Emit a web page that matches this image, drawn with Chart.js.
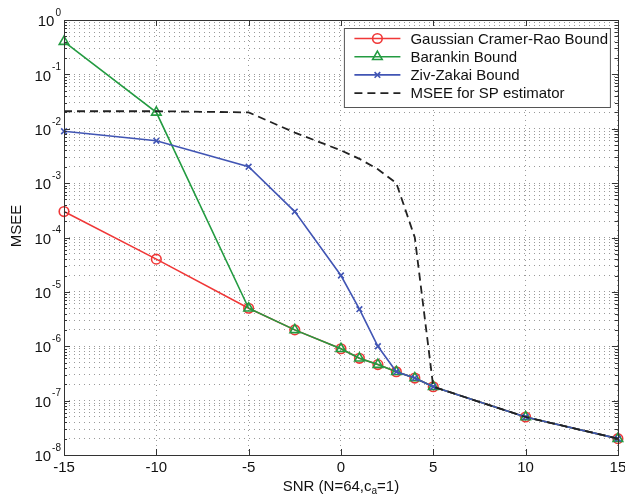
<!DOCTYPE html>
<html>
<head>
<meta charset="utf-8">
<script src="https://cdn.jsdelivr.net/npm/chart.js@4.4.1/dist/chart.umd.min.js"></script>
<style>
  html, body { margin: 0; padding: 0; background: #fff; }
  #wrap { width: 625px; height: 497px; position: relative; }
</style>
</head>
<body>
<div id="wrap"><canvas id="chart"></canvas></div>
<script>
// SNR values (dB) shared by all curves
const snr = [-15, -10, -5, -2.5, 0, 1, 2, 3, 4, 5, 10, 15];

const gaussianCrb = [3e-4, 4e-5, 5e-6, 2e-6, 9e-7, 6e-7, 4.6e-7, 3.4e-7, 2.6e-7, 1.8e-7, 5e-8, 2e-8];
const barankin    = [0.4, 0.02, 5e-6, 2e-6, 9e-7, 6e-7, 4.6e-7, 3.4e-7, 2.6e-7, 1.8e-7, 5e-8, 2e-8];
const zivZakai    = [9e-3, 6e-3, 2e-3, 3e-4, 2e-5, 4.8e-6, 1e-6, 3.4e-7, 2.6e-7, 1.8e-7, 5e-8, 2e-8];
const mseeSp      = [0.021, 0.021, 0.02, 8.5e-3, 4e-3, 2.8e-3, 1.8e-3, 1e-3, 1e-4, 1.8e-7, 5e-8, 2e-8];

const seriesNames = ['Gaussian Cramer-Rao Bound', 'Barankin Bound', 'Ziv-Zakai Bound', 'MSEE for SP estimator'];

const xTicks = [-15, -10, -5, 0, 5, 10, 15];
const yExponents = [-8, -7, -6, -5, -4, -3, -2, -1, 0];

const FONT = '"Liberation Sans", Arial, Helvetica, sans-serif';
const toPoints = (vals) => vals.map((v, i) => ({ x: snr[i], y: v }));

// axes box, inward ticks, tick labels, titles and the legend drawn matlab-style
const matlabFrame = {
  id: 'matlabFrame',
  afterDraw(chart) {
    const { ctx, chartArea: a, scales: { x, y } } = chart;
    ctx.save();

    ctx.strokeStyle = '#333';
    ctx.lineWidth = 1;
    ctx.beginPath();
    y.ticks.forEach((t) => {
      const py = Math.round(y.getPixelForValue(t.value)) + 0.5;
      const len = t.major ? 6 : 3;
      ctx.moveTo(a.left, py); ctx.lineTo(a.left + len, py);
      ctx.moveTo(a.right, py); ctx.lineTo(a.right - len, py);
    });
    x.ticks.forEach((t) => {
      const px = Math.round(x.getPixelForValue(t.value)) + 0.5;
      ctx.moveTo(px, a.bottom); ctx.lineTo(px, a.bottom - 6);
      ctx.moveTo(px, a.top); ctx.lineTo(px, a.top + 6);
    });
    ctx.stroke();
    ctx.strokeRect(Math.round(a.left) + 0.5, Math.round(a.top) + 0.5,
      Math.round(a.right - a.left), Math.round(a.bottom - a.top));

    // tick labels
    ctx.fillStyle = '#111';
    ctx.textBaseline = 'middle';
    ctx.textAlign = 'center';
    ctx.font = '15px ' + FONT;
    x.ticks.forEach((t) => {
      ctx.fillText(String(t.value), x.getPixelForValue(t.value), a.bottom + 13);
    });

    yExponents.forEach((e) => {
      const py = y.getPixelForValue(Math.pow(10, e));
      const expText = String(e).replace('-', '-');
      ctx.font = '10px ' + FONT;
      const ew = ctx.measureText(expText).width;
      ctx.textAlign = 'right';
      ctx.fillText(expText, a.left - 3, py - 7);
      ctx.font = '15px ' + FONT;
      ctx.fillText('10', a.left - 4 - ew, py + 2);
    });

    // x title with subscript
    const parts = [['SNR (N=64,c', 15, 0], ['a', 10, 4], ['=1)', 15, 0]];
    let total = 0;
    parts.forEach((p) => { ctx.font = p[1] + 'px ' + FONT; total += ctx.measureText(p[0]).width; });
    let cx = (a.left + a.right) / 2 - total / 2;
    ctx.textAlign = 'left';
    parts.forEach((p) => {
      ctx.font = p[1] + 'px ' + FONT;
      ctx.fillText(p[0], cx, a.bottom + 32 + p[2]);
      cx += ctx.measureText(p[0]).width;
    });

    // y title
    ctx.save();
    ctx.translate(17, 226);
    ctx.rotate(-Math.PI / 2);
    ctx.textAlign = 'center';
    ctx.font = '15px ' + FONT;
    ctx.fillText('MSEE', 0, 0);
    ctx.restore();

    // legend inside the axes
    const bx = a.right - 273.5, by = a.top + 8.5, bw = 266, bh = 79;
    ctx.fillStyle = '#fff';
    ctx.fillRect(bx, by, bw, bh);
    ctx.strokeStyle = '#555';
    ctx.lineWidth = 1;
    ctx.strokeRect(bx, by, bw, bh);
    chart.data.datasets.forEach((ds, i) => {
      const ry = by + 10 + i * 18.2;
      ctx.strokeStyle = ds.borderColor;
      ctx.lineWidth = ds.borderWidth;
      ctx.setLineDash(ds.borderDash || []);
      ctx.beginPath();
      ctx.moveTo(bx + 10, ry); ctx.lineTo(bx + 56, ry);
      ctx.stroke();
      ctx.setLineDash([]);
      if (ds.pointRadius > 0) {
        ctx.fillStyle = 'rgba(0,0,0,0)';
        ctx.lineWidth = ds.pointBorderWidth;
        Chart.helpers.drawPoint(ctx, {
          pointStyle: ds.pointStyle, radius: ds.pointRadius,
          borderWidth: ds.pointBorderWidth, rotation: 0
        }, bx + 33, ry);
      }
      ctx.fillStyle = '#111';
      ctx.font = '15px ' + FONT;
      ctx.textAlign = 'left';
      ctx.fillText(ds.label, bx + 66, ry + 1);
    });

    ctx.restore();
  }
};

const ctx = document.getElementById('chart').getContext('2d');
new Chart(ctx, {
  type: 'line',
  data: {
    datasets: [
      {
        label: seriesNames[0],
        data: toPoints(gaussianCrb),
        borderColor: 'rgb(240, 55, 55)',
        backgroundColor: 'rgba(0,0,0,0)',
        borderWidth: 1.6,
        pointStyle: 'circle',
        pointRadius: 4.8,
        pointBorderWidth: 1.6,
        pointBorderColor: 'rgb(240, 55, 55)',
        pointBackgroundColor: 'rgba(0,0,0,0)',
        order: 4,
        clip: false,
      },
      {
        label: seriesNames[1],
        data: toPoints(barankin),
        borderColor: 'rgb(35, 155, 65)',
        backgroundColor: 'rgba(0,0,0,0)',
        borderWidth: 1.6,
        pointStyle: 'triangle',
        pointRadius: 5.5,
        pointBorderWidth: 1.6,
        pointBorderColor: 'rgb(35, 155, 65)',
        pointBackgroundColor: 'rgba(0,0,0,0)',
        order: 3,
        clip: false,
      },
      {
        label: seriesNames[2],
        data: toPoints(zivZakai),
        borderColor: 'rgb(65, 85, 180)',
        backgroundColor: 'rgba(0,0,0,0)',
        borderWidth: 1.6,
        pointStyle: 'crossRot',
        pointRadius: 4,
        pointBorderWidth: 1.6,
        pointBorderColor: 'rgb(65, 85, 180)',
        pointBackgroundColor: 'rgba(0,0,0,0)',
        order: 2,
        clip: false,
      },
      {
        label: seriesNames[3],
        data: toPoints(mseeSp),
        borderColor: '#222',
        backgroundColor: 'rgba(0,0,0,0)',
        borderWidth: 1.8,
        borderDash: [8, 5],
        pointRadius: 0,
        pointBorderWidth: 0,
        order: 1,
        clip: false,
      },
    ],
  },
  options: {
    responsive: true,
    maintainAspectRatio: false,
    animation: false,
    events: [],
    layout: { padding: { left: 64, top: 20, right: 5, bottom: 42 } },
    plugins: {
      legend: { display: false },
      tooltip: { enabled: false },
    },
    scales: {
      x: {
        type: 'linear',
        min: -15,
        max: 15,
        afterBuildTicks: (scale) => { scale.ticks = xTicks.map((v) => ({ value: v })); },
        ticks: { display: false },
        grid: { color: '#9a9a9a', lineWidth: 1, drawTicks: false },
        border: { display: false, dash: [1, 4] },
      },
      y: {
        type: 'logarithmic',
        min: 1e-8,
        max: 1,
        afterBuildTicks: (scale) => {
          const t = [];
          yExponents.forEach((e) => {
            for (let m = 1; m <= 9; m++) {
              if (e === 0 && m > 1) break;
              t.push({ value: m * Math.pow(10, e), major: m === 1 });
            }
          });
          scale.ticks = t;
        },
        ticks: { display: false },
        grid: { color: '#9a9a9a', lineWidth: 1, drawTicks: false },
        border: { display: false, dash: [1, 4] },
      },
    },
  },
  plugins: [matlabFrame],
});
</script>
</body>
</html>
